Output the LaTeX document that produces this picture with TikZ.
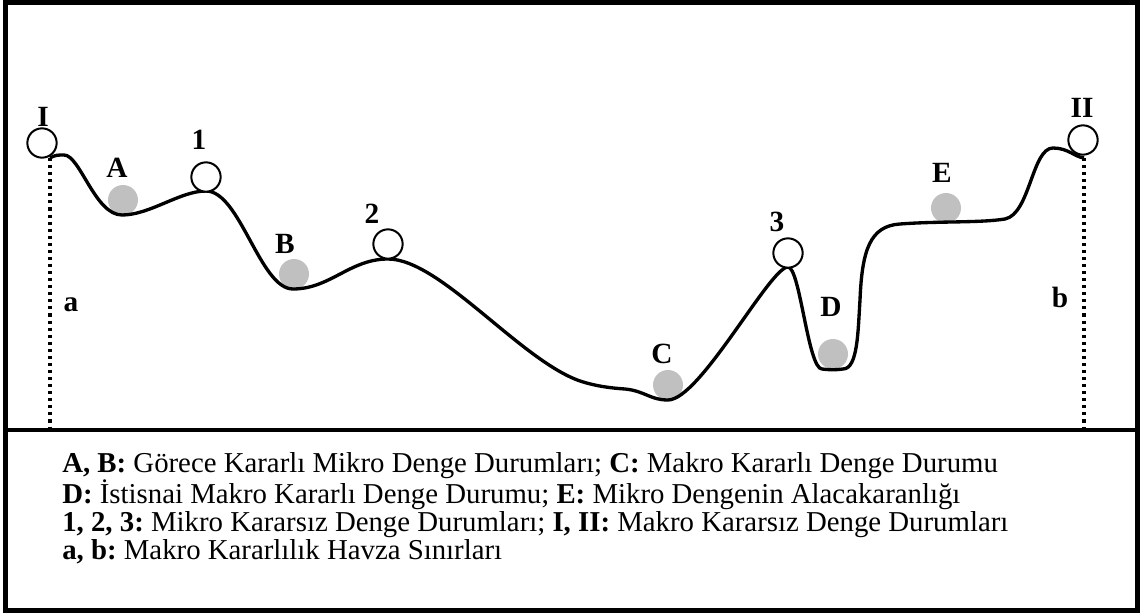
\documentclass[tikz,border=0pt]{standalone}
\usepackage{fontspec}
\setmainfont{Liberation Serif}
\definecolor{ballgray}{RGB}{192,192,192}
\begin{document}
\begin{tikzpicture}[x=0.75pt, y=-0.75pt,
  top/.style = {draw, circle, line width=1.5pt, fill=white, minimum size=22pt, inner sep=0pt},
  ball/.style = {circle, fill=ballgray, minimum size=22.5pt, inner sep=0pt},
  lab/.style = {font=\fontsize{22}{25}\selectfont\bfseries, inner sep=0pt},
  ground/.style = {line width=2.5pt},
  border/.style = {line width=2.3pt, dash pattern=on 2.3pt off 3pt}]
  \useasboundingbox (0,0) rectangle (1140,613);
  \draw[line width=3.4pt] (5.5,2.5) rectangle (1137.5,610.5);
  \draw[line width=3pt] (5.5,430) -- (1137.5,430);

  \coordinate (s) at (50,158);
  \coordinate (e) at (1084,158);
  \coordinate (a0) at (50,430);
  \coordinate (b0) at (1084,430);
  \draw[border] (s) -- (a0);
  \draw[border] (e) -- (b0);

  \node[ball] (A) at (123,200) {};
  \node[ball] (B) at (294,274) {};
  \node[ball] (C) at (668,385) {};
  \node[ball] (D) at (833,354) {};
  \node[ball] (E) at (946,208) {};

  \draw[ground] (s) .. controls (55,155) and (58,155) .. (64,155)
    .. controls (80,155) and (95,215) .. (122,215)
    .. controls (150,215) and (180,191) .. (206,191)
    .. controls (240,191) and (260,289) .. (293,289)
    .. controls (330,289) and (350,259) .. (388,259)
    .. controls (440,259) and (520,360) .. (580,381)
    .. controls (595,386) and (610,388) .. (625,389)
    .. controls (645,391) and (650,400) .. (668,400)
    .. controls (700,400) and (770,267) .. (788,267)
    .. controls (800,267) and (808,369) .. (822,369)
    .. controls (830,370) and (836,370) .. (843,369)
    .. controls (858,369) and (858,330) .. (860,300)
    .. controls (862,250) and (870,226) .. (900,224)
    .. controls (940,221) and (980,223) .. (1005,219)
    .. controls (1030,214) and (1032,148) .. (1053,148)
    .. controls (1068,148) and (1075,157) .. (e);

  \node[top] (I) at (42,143) {};
  \node[top] (1) at (206,177) {};
  \node[top] (2) at (388,244) {};
  \node[top] (3) at (788,253) {};
  \node[top] (II) at (1083,140) {};

  \node[lab] (lI) at (43,117) {I};
  \node[lab] (lA) at (117,168) {A};
  \node[lab] (l1) at (199,140) {1};
  \node[lab] (lB) at (285,244) {B};
  \node[lab] (l2) at (372,214) {2};
  \node[lab] (lC) at (662,354) {C};
  \node[lab] (l3) at (777,222) {3};
  \node[lab] (lD) at (831,307) {D};
  \node[lab] (lE) at (942,173) {E};
  \node[lab] (lII) at (1082,108) {II};
  \node[lab] (la) at (71,305) {a};
  \node[lab] (lb) at (1060,297) {b};

  \node[anchor=base west, align=left, inner sep=0pt, font=\fontsize{21.6}{20.8}\selectfont\frenchspacing] (legend) at (62,559)
    {\textbf{A, B:} Görece Kararlı Mikro Denge Durumları; \textbf{C:} Makro Kararlı Denge Durumu\\
     \textbf{D:} İstisnai Makro Kararlı Denge Durumu; \textbf{E:} Mikro Dengenin Alacakaranlığı\\
     \textbf{1, 2, 3:} Mikro Kararsız Denge Durumları; \textbf{I, II:} Makro Kararsız Denge Durumları\\
     \textbf{a, b:} Makro Kararlılık Havza Sınırları};
\end{tikzpicture}
\end{document}
